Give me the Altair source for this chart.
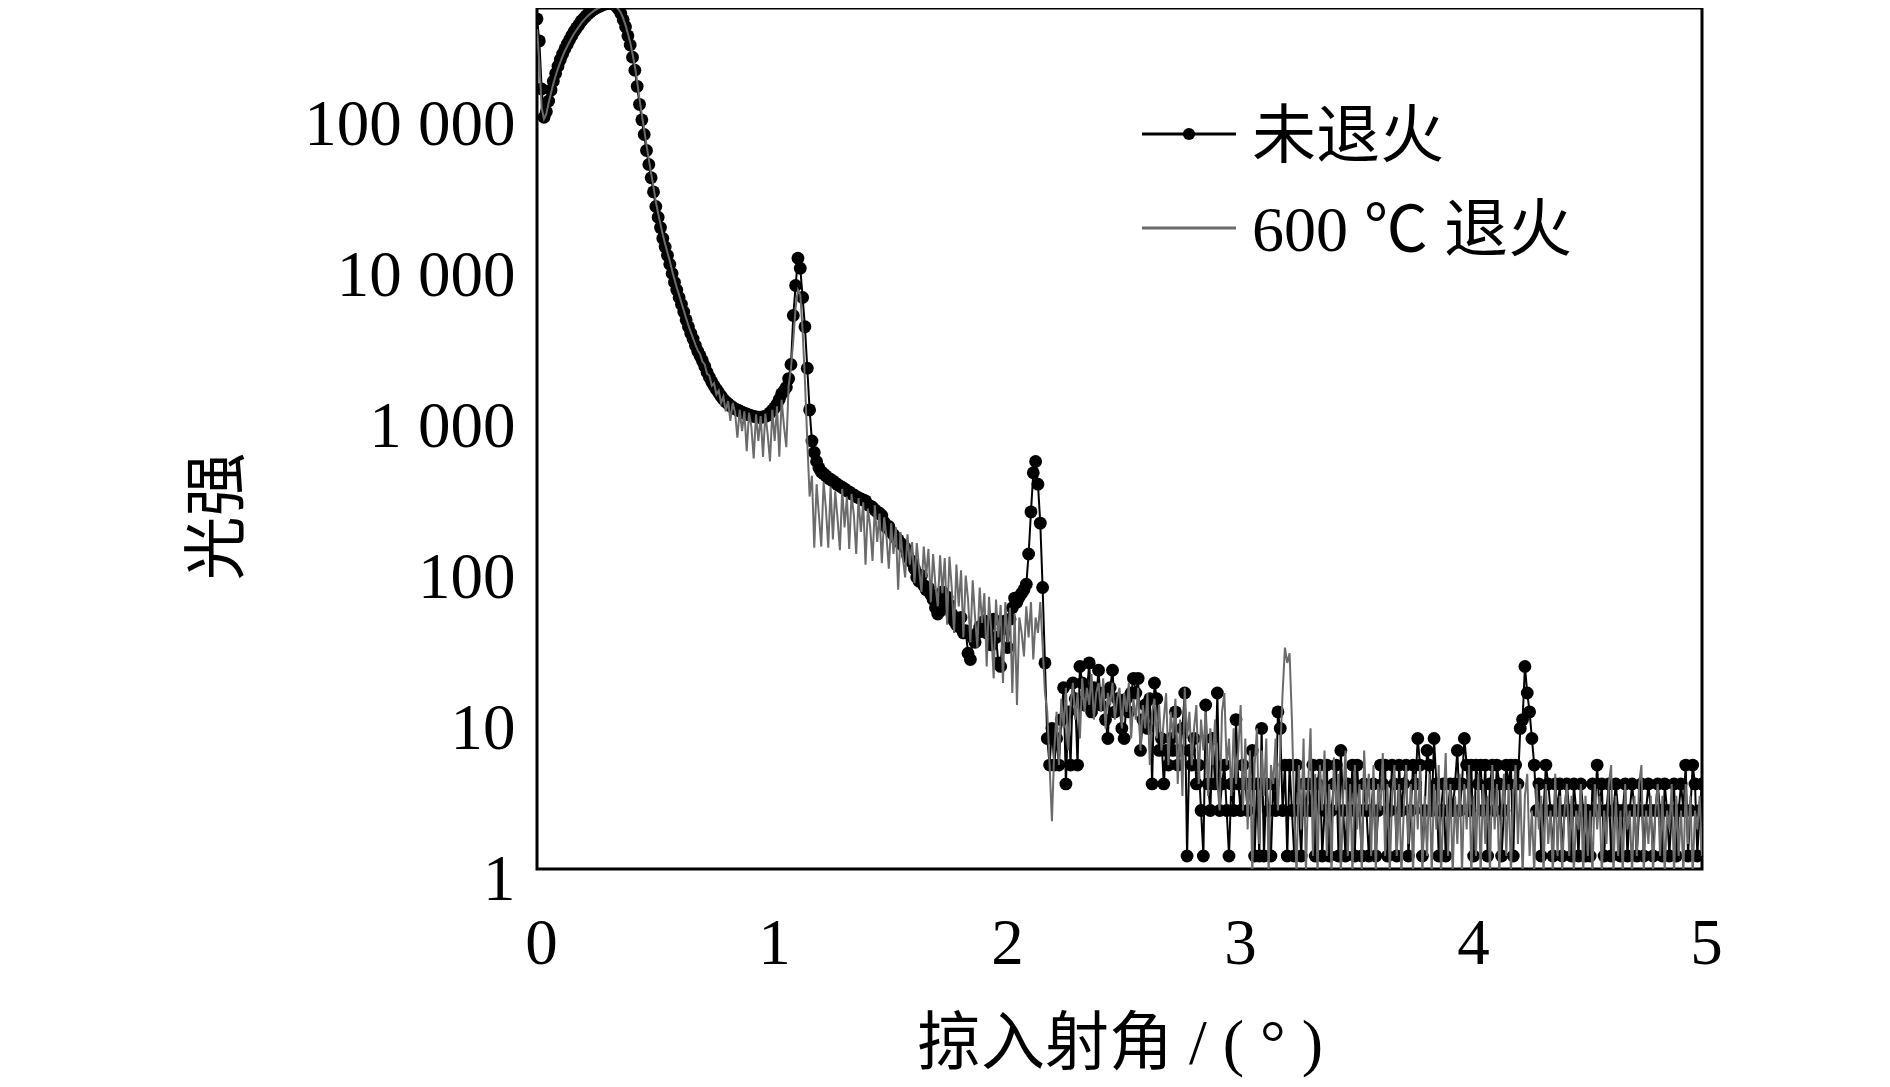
import altair as alt
import pandas as pd

# ---------------- data ----------------
series_names = ["未退火", "600 ℃ 退火"]
x_title = "掠入射角 / ( ° )"
y_title = "光强"
x_ticks = [0, 1, 2, 3, 4, 5]
y_ticks = [1, 10, 100, 1000, 10000, 100000]
y_tick_labels = ["1", "10", "100", "1 000", "10 000", "100 000"]
angle_step = 0.01  # sampling step of both scans, starting at 0 deg

# 未退火 (black line with dots), one value per 0.01 deg from 0.00 to 5.00
unannealed = [
    350000, 250000, 120000, 78000, 85000, 100000, 118000, 135000, 152000, 170000,   # 0.0
    188000, 205000, 222000, 238000, 255000, 272000, 290000, 305000, 320000, 338000,  # 0.1
    352000, 365000, 378000, 390000, 400000, 410000, 418000, 425000, 432000, 438000,  # 0.2
    442000, 445000, 444000, 438000, 425000, 405000, 380000, 345000, 310000, 270000,  # 0.3
    235000, 195000, 160000, 125000, 95000, 75000, 60000, 47000, 38000, 31000,        # 0.4
    25000, 20000, 17000, 14500, 12300, 10800, 9500, 8300, 7200, 6300,                # 0.5
    5600, 5000, 4500, 4000, 3550, 3200, 2900, 2650, 2400, 2200,                      # 0.6
    2050, 1900, 1750, 1600, 1480, 1380, 1300, 1230, 1170, 1110,                      # 0.7
    1060, 1020, 990, 960, 935, 915, 900, 885, 870, 855,                              # 0.8
    845, 835, 825, 815, 810, 805, 805, 808, 815, 830,                                # 0.9
    860, 895, 930, 980, 1060, 1150, 1200, 1270, 1450, 1800,                          # 1.0
    3800, 6000, 9100, 7800, 5000, 3200, 1700, 900, 560, 470,                         # 1.1
    410, 372, 350, 340, 330, 318, 312, 305, 296, 288,                                # 1.2
    282, 276, 270, 262, 258, 250, 246, 240, 236, 232,                                # 1.3
    228, 225, 212, 208, 204, 196, 190, 186, 180, 162,                                # 1.4
    150, 152, 140, 134, 128, 124, 118, 114, 110, 98,                                 # 1.5
    92, 88, 80, 70, 66, 72, 62, 58, 60, 54,                                          # 1.6
    50, 44, 40, 42, 56, 50, 52, 46, 40, 36,                                          # 1.7
    34, 33, 38, 30, 31, 22, 20, 28, 26, 30,                                          # 1.8
    33, 31, 36, 30, 34, 25, 37, 28, 19, 18,                                          # 1.9
    32, 36, 24, 37, 44, 51, 48, 52, 55, 58,                                          # 2.0
    63, 100, 190, 345, 410, 290, 160, 60, 19, 6,                                     # 2.1
    4, 7, 4, 6, 4, 8, 13, 3, 9, 4,                                                   # 2.2
    14, 11, 4, 18, 14, 10, 12, 19, 9, 13,                                            # 2.3
    11, 17, 10, 12, 8, 6, 13, 17, 9, 11,                                             # 2.4
    10, 7, 6, 11, 9, 12, 15, 12, 15, 5,                                              # 2.5
    8, 10, 7, 11, 3, 14, 11, 5, 6, 3,                                                # 2.6
    5, 4, 6, 5, 9, 4, 5, 7, 12, 1,                                                   # 2.7
    5, 4, 6, 3, 4, 2, 1, 10, 3, 2,                                                   # 2.8
    6, 3, 12, 2, 3, 4, 2, 1, 3, 2,                                                   # 2.9
    8, 3, 2, 4, 3, 2, 3, 5, 1, 3,                                                    # 3.0
    1, 7, 1, 3, 2, 1, 3, 2, 9, 7,                                                    # 3.1
    2, 4, 1, 4, 2, 1, 4, 2, 1, 3,                                                    # 3.2
    2, 3, 2, 4, 1, 3, 4, 1, 2, 4,                                                    # 3.3
    1, 2, 3, 4, 1, 5, 2, 1, 3, 2,                                                    # 3.4
    4, 1, 4, 2, 1, 3, 2, 1, 2, 3,                                                    # 3.5
    1, 2, 4, 3, 4, 1, 2, 4, 3, 1,                                                    # 3.6
    4, 2, 3, 4, 1, 2, 4, 3, 6, 4,                                                    # 3.7
    1, 2, 5, 4, 2, 6, 3, 1, 2, 3,                                                    # 3.8
    1, 2, 3, 2, 3, 5, 2, 3, 6, 4,                                                    # 3.9
    2, 4, 1, 4, 3, 4, 2, 4, 1, 3,                                                    # 4.0
    4, 2, 4, 3, 1, 2, 4, 3, 4, 1,                                                    # 4.1
    4, 3, 7, 8, 18, 12, 9, 6, 4, 2,                                                  # 4.2
    3, 1, 2, 4, 3, 2, 1, 3, 2, 3,                                                    # 4.3
    1, 2, 3, 2, 1, 3, 2, 1, 3, 2,                                                    # 4.4
    1, 2, 1, 3, 2, 4, 2, 3, 1, 2,                                                    # 4.5
    3, 1, 2, 3, 2, 1, 2, 3, 1, 2,                                                    # 4.6
    3, 2, 1, 2, 3, 1, 2, 3, 2, 1,                                                    # 4.7
    2, 3, 2, 1, 3, 2, 1, 2, 3, 1,                                                    # 4.8
    2, 3, 2, 4, 1, 2, 4, 3, 1, 2,                                                    # 4.9
    3,                                                                               # 5.0
]

# 600 ℃ 退火 (grey line), one value per 0.01 deg from 0.00 to 5.00
annealed = [
    300000, 180000, 90000, 76000, 82000, 97000, 113000, 130000, 147000, 164000,      # 0.0
    181000, 198000, 215000, 231000, 248000, 264000, 281000, 296000, 311000, 328000,  # 0.1
    342000, 355000, 368000, 380000, 391000, 401000, 409000, 416000, 423000, 429000,  # 0.2
    433000, 436000, 436000, 432000, 422000, 405000, 383000, 352000, 318000, 280000,  # 0.3
    245000, 205000, 170000, 134000, 103000, 81000, 65000, 51000, 41000, 33000,       # 0.4
    27000, 21500, 18000, 15300, 13000, 11300, 9900, 8700, 7500, 6600,                # 0.5
    5800, 5200, 4600, 4100, 3650, 3250, 2950, 2680, 2430, 2230,                      # 0.6
    2100, 1880, 1800, 1560, 1520, 1300, 1350, 1140, 1210, 1000,                      # 0.7
    1100, 880, 1030, 760, 1000, 870, 590, 900, 650, 880,                             # 0.8
    480, 860, 700, 430, 840, 560, 820, 440, 850, 620,                                # 0.9
    410, 900, 560, 950, 440, 1050, 700, 510, 1300, 1700,                             # 1.0
    2600, 4300, 5600, 5200, 3000, 1400, 560, 240, 330, 110,                          # 1.1
    290, 180, 112, 300, 200, 110, 280, 125, 260, 170,                                # 1.2
    106, 270, 150, 240, 108, 250, 180, 100, 235, 140,                                # 1.3
    220, 85, 200, 150, 90, 210, 120, 185, 87, 175,                                   # 1.4
    130, 80, 160, 100, 150, 58, 140, 95, 70, 135,                                    # 1.5
    85, 120, 64, 118, 80, 56, 112, 70, 108, 48,                                      # 1.6
    100, 62, 45, 98, 55, 94, 34, 96, 60, 30,                                         # 1.7
    85, 45, 78, 28, 72, 50, 26, 67, 38, 24,                                          # 1.8
    60, 35, 55, 18, 52, 30, 15, 50, 28, 46,                                          # 1.9
    14, 48, 26, 44, 12, 40, 10, 38, 30, 21,                                          # 2.0
    45, 28, 48, 20, 38, 30, 48, 25, 12, 9,                                           # 2.1
    4, 1.7, 5, 9, 4, 11, 7, 13, 5, 10,                                               # 2.2
    14, 8, 12, 6, 15, 9, 13, 10, 16, 8,                                              # 2.3
    12, 14, 9, 15, 7, 12, 10, 14, 8, 11,                                             # 2.4
    13, 7, 12, 9, 14, 6, 11, 8, 13, 5,                                               # 2.5
    10, 7, 12, 4, 9, 11, 6, 10, 5, 8,                                                # 2.6
    12, 4, 9, 6, 11, 3, 8, 2.5, 13, 6,                                               # 2.7
    9, 4, 7, 10, 3, 8, 5, 9, 2.5, 7,                                                 # 2.8
    4, 8, 3, 2, 9, 12, 4, 6, 2.5, 7,                                                 # 2.9
    3, 5, 10, 2, 6, 1.5, 5, 0.75, 4, 7,                                              # 3.0
    1.2, 5, 2.5, 6, 0.75, 4, 3, 6, 2, 5,                                             # 3.1
    12, 24, 19, 22, 8, 2, 0.75, 4, 1.5, 6,                                           # 3.2
    0.75, 3, 7, 1, 3.5, 0.75, 4, 2, 5, 1,                                            # 3.3
    3, 0.75, 4.5, 2, 3.5, 0.75, 2.5, 5, 1, 3,                                        # 3.4
    0.75, 4, 1.5, 3, 0.75, 5, 2, 3.5, 1, 4,                                          # 3.5
    0.75, 3, 2, 4.8, 1, 3, 0.75, 2.5, 4, 1,                                          # 3.6
    3, 0.75, 2, 4, 1.2, 3, 0.75, 3.5, 1.5, 4,                                        # 3.7
    0.75, 2.5, 1, 3.5, 0.75, 3, 1.5, 4, 0.75, 2,                                     # 3.8
    4.8, 1, 3, 0.75, 2.5, 1.2, 3.5, 0.75, 3, 1.5,                                    # 3.9
    4, 0.75, 2.5, 1, 3.5, 0.75, 3, 1.2, 2.5, 0.75,                                   # 4.0
    4, 1.5, 3, 0.75, 2, 3.5, 1, 3, 0.75, 2.5,                                        # 4.1
    4, 1.2, 3, 0.75, 2.5, 3.5, 1, 2, 0.75, 3,                                        # 4.2
    1.5, 2.5, 0.75, 3, 1.2, 2, 0.75, 3.5, 1, 2.5,                                    # 4.3
    0.75, 2, 3, 1, 2.5, 0.75, 2, 1.5, 3, 0.75,                                       # 4.4
    2.5, 1, 2, 0.75, 3, 1.5, 2.5, 0.75, 2, 1.2,                                      # 4.5
    3, 4, 0.75, 2.5, 1, 2, 0.75, 3, 1.5, 2,                                          # 4.6
    0.75, 2.5, 1, 3, 4, 0.75, 2, 1.2, 2.5, 0.75,                                     # 4.7
    2, 3, 1, 2.5, 0.75, 2, 1.5, 3, 0.75, 2.5,                                        # 4.8
    1, 2, 0.75, 3, 1.2, 2.5, 0.75, 2, 1.5, 2.5,                                      # 4.9
    1,                                                                               # 5.0
]

# ---------------- tables ----------------
def scan_frame(values, name):
    return pd.DataFrame({
        "angle": [round(i * angle_step, 2) for i in range(len(values))],
        "intensity": values,
        "series": name,
    })

df_un = scan_frame(unannealed, series_names[0])
df_an = scan_frame(annealed, series_names[1])
legend_df = pd.DataFrame({"label": series_names})

# ---------------- styling ----------------
FONT = "Liberation Serif, Noto Sans CJK SC"
BLACK = "#000000"
GREY = "#6b6b6b"

label_expr = "".join(
    f"datum.value == {v} ? '{t}' : " for v, t in zip(y_ticks, y_tick_labels)
) + "''"

x_enc = alt.X(
    "angle:Q",
    scale=alt.Scale(domain=[0, 5], nice=False, zero=False),
    axis=alt.Axis(
        values=x_ticks, format="d", title=x_title,
        labelOffset=4, labelPadding=43, labelFlush=False,
        titleY=175, titleBaseline="middle",
    ),
)
y_enc = alt.Y(
    "intensity:Q",
    scale=alt.Scale(type="log", domain=[0.82, 412900], nice=False),
    axis=alt.Axis(
        values=y_ticks, labelExpr=label_expr, title=y_title,
        labelOffset=24, labelPadding=22, labelFlush=False, labelLimit=0,
        titleX=-319, titleY=508, titleAngle=270,
        titleAlign="center", titleBaseline="middle",
    ),
)

black_line = alt.Chart(df_un).mark_line(color=BLACK, strokeWidth=2, clip=True).encode(x=x_enc, y=y_enc)
black_pts = alt.Chart(df_un).mark_circle(color=BLACK, size=165, opacity=1, clip=True).encode(x=x_enc, y=y_enc)
grey_line = alt.Chart(df_an).mark_line(color=GREY, strokeWidth=2, clip=True).encode(x=x_enc, y=y_enc)

# legend (top right, inside the frame)
leg1 = legend_df.iloc[[0]]
leg2 = legend_df.iloc[[1]]
leg_line1 = alt.Chart(leg1).mark_rule(color=BLACK, strokeWidth=3).encode(
    x=alt.value(605), x2=alt.value(699), y=alt.value(126))
leg_dot1 = alt.Chart(leg1).mark_circle(color=BLACK, size=150, opacity=1).encode(
    x=alt.value(652), y=alt.value(126))
leg_line2 = alt.Chart(leg2).mark_rule(color=GREY, strokeWidth=3).encode(
    x=alt.value(605), x2=alt.value(699), y=alt.value(220))
leg_text1 = alt.Chart(leg1).mark_text(align="left", baseline="middle", font=FONT, fontSize=64, color=BLACK).encode(
    x=alt.value(715), y=alt.value(130), text="label:N")
leg_text2 = alt.Chart(leg2).mark_text(align="left", baseline="middle", font=FONT, fontSize=64, color=BLACK).encode(
    x=alt.value(715), y=alt.value(224), text="label:N")

chart = (
    alt.layer(black_line, black_pts, grey_line, leg_line1, leg_dot1, leg_line2, leg_text1, leg_text2)
    .properties(
        width=1165, height=861,
        autosize=alt.AutoSizeParams(type="none"),
        padding={"left": 529, "top": 0, "right": 180, "bottom": 210},
        background="white",
    )
    .configure_view(stroke=BLACK, strokeWidth=3)
    .configure_axis(
        grid=False, ticks=False, tickSize=0, domain=False,
        labelFont=FONT, labelFontSize=65, labelColor=BLACK,
        titleFont=FONT, titleFontSize=64, titleColor=BLACK, titleFontWeight="normal",
    )
)

chart.save("out.html", embed_options={"renderer": "svg", "actions": False})
